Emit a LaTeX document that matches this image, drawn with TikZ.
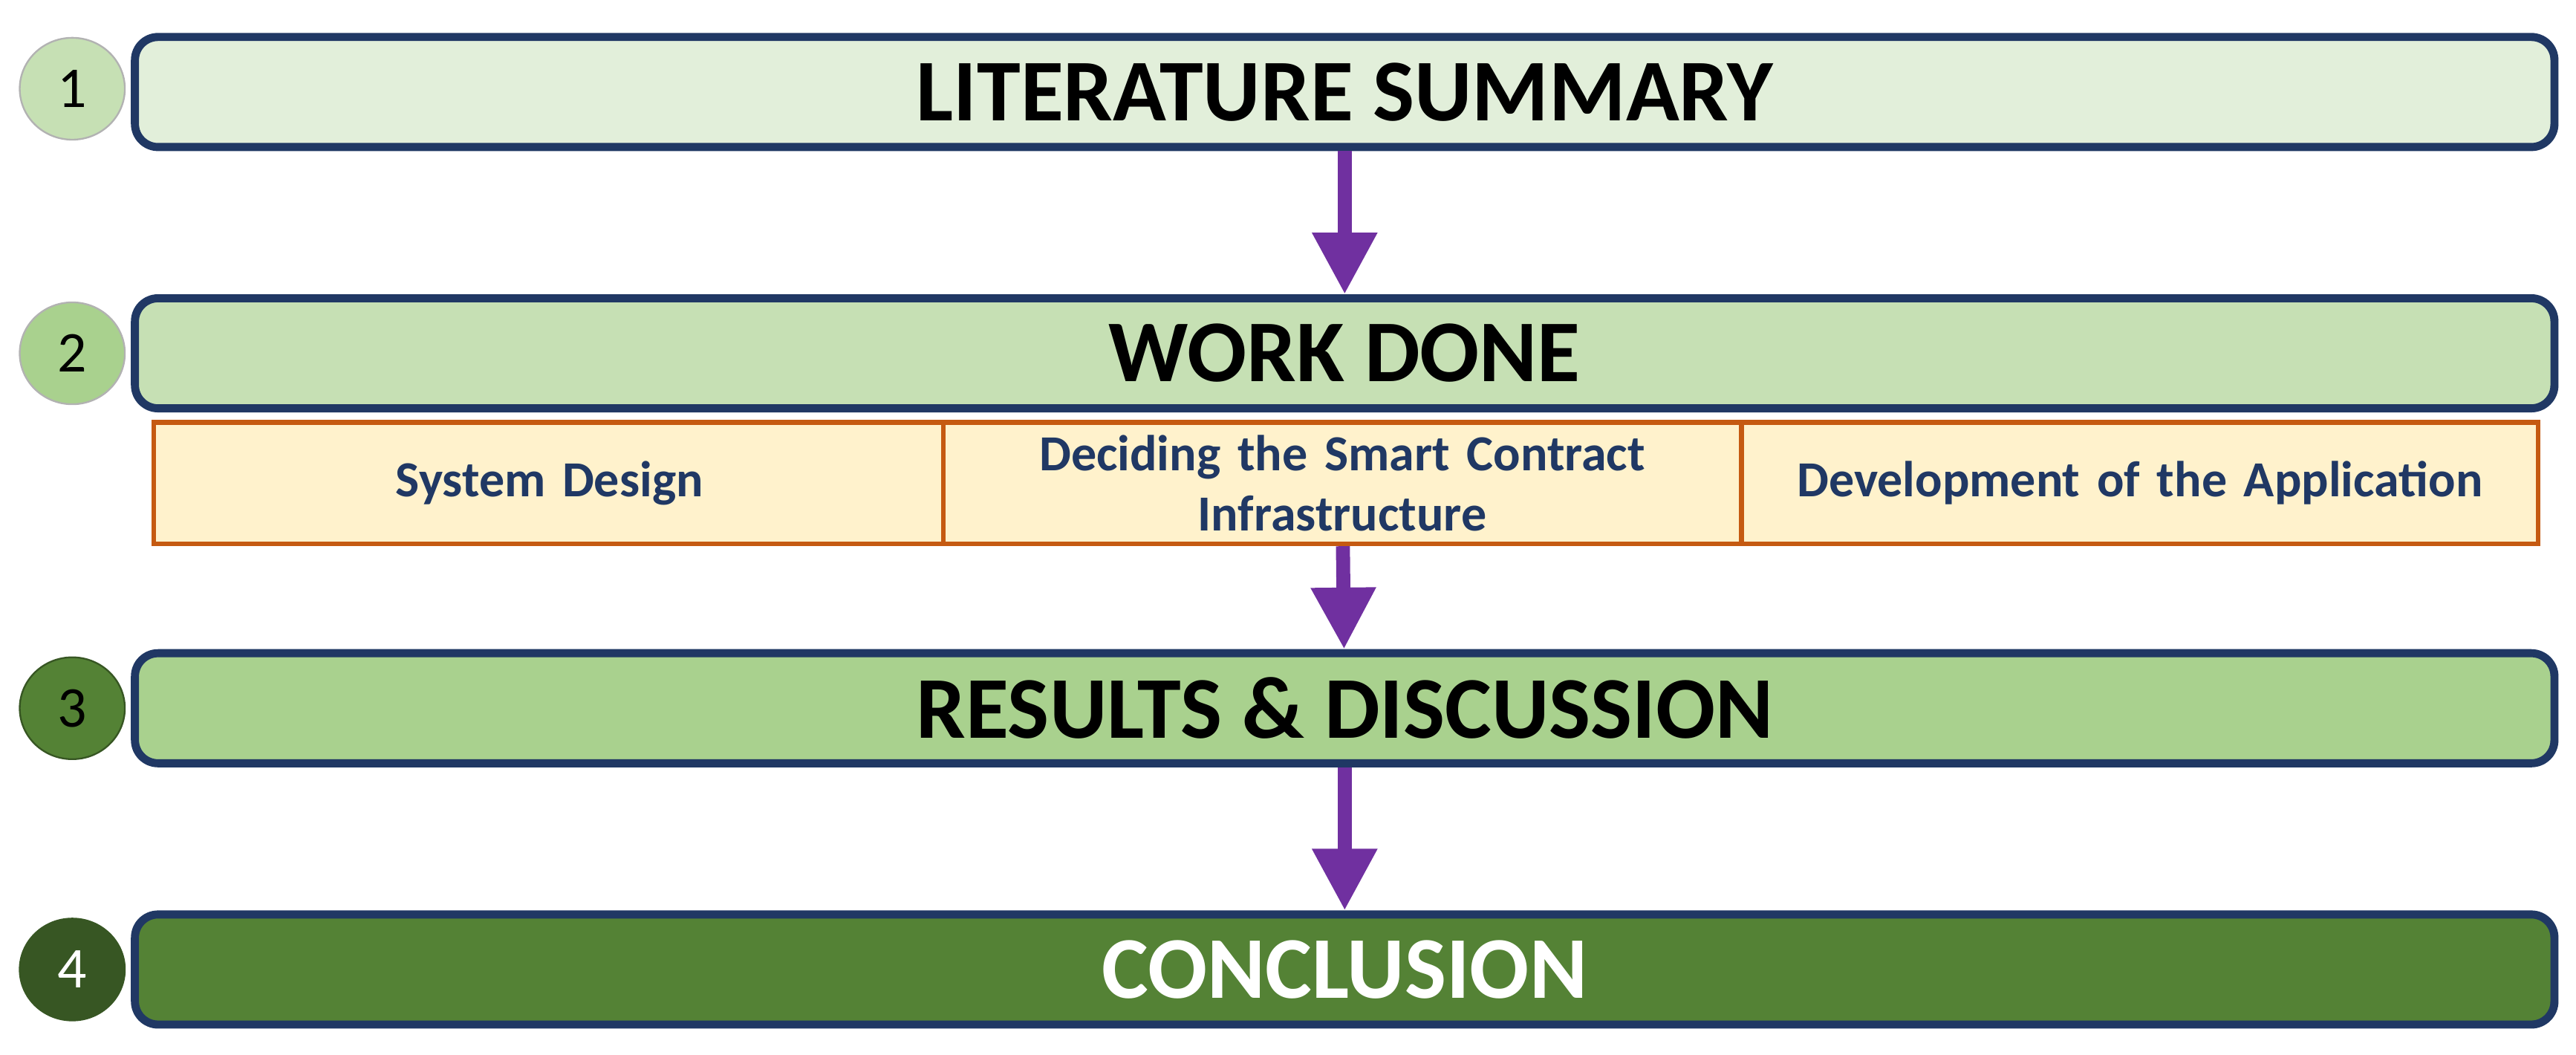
\documentclass[tikz,border=0pt]{standalone}
\usepackage{fontspec}
\setmainfont{Carlito}
\usetikzlibrary{arrows.meta,shapes.geometric}
\definecolor{navy}{HTML}{203864}
\definecolor{gA}{HTML}{E2EFDA}
\definecolor{gB}{HTML}{C6E0B4}
\definecolor{gC}{HTML}{A9D18E}
\definecolor{gD}{HTML}{548235}
\definecolor{gE}{HTML}{375623}
\definecolor{cream}{HTML}{FFF2CC}
\definecolor{rust}{HTML}{C55A11}
\definecolor{violet}{HTML}{7030A0}
\tikzset{
stage/.style={rectangle, rounded corners=8pt, minimum width=29.46cm, minimum height=1.34cm, draw=navy, line width=2.8pt, font=\fontsize{30.5}{34}\selectfont\bfseries, text=black},
task/.style={rectangle, minimum height=1.48cm, text width=9.4cm, align=center, draw=rust, line width=1.6pt, fill=cream, text=navy, font=\fontsize{17.5}{21}\selectfont\bfseries},
stepno/.style={ellipse, minimum width=1.28cm, minimum height=1.24cm, draw=gray!60, line width=0.6pt, font=\fontsize{20}{22}\selectfont},
arrow/.style={line width=0.17cm, violet, -{Triangle[width=0.75cm,length=0.75cm]}}}
\begin{document}
\begin{tikzpicture}[x=0.02cm, y=-0.02cm]
\useasboundingbox (0,0) rectangle (1568,642);
\node (lit) [stage, fill=gA] at (818.5,56) {LITERATURE SUMMARY};
\node (work) [stage, fill=gB] at (818.5,215) {WORK DONE};
\node (res) [stage, fill=gC] at (818.5,431) {RESULTS \& DISCUSSION};
\node (conc) [stage, fill=gD, text=white] at (818.5,590) {CONCLUSION};

\node (design) [task, minimum width=9.58cm] at (334.5,294) {System Design};
\node (infra) [task, minimum width=9.72cm] at (817,294) {Deciding the Smart Contract\\Infrastructure};
\node (app) [task, minimum width=9.7cm] at (1302.5,294) {Development of the Application};

\node (s1) [stepno, fill=gB] at (44,54) {1};
\node (s2) [stepno, fill=gC] at (44,215) {2};
\node (s3) [stepno, fill=gD, draw=gE] at (44,431) {3};
\node (s4) [stepno, fill=gE, draw=gE, text=white] at (44,590) {4};

\draw [arrow] (lit) -- (work);
\draw [arrow] (infra) -- (res);
\draw [arrow] (res) -- (conc);
\end{tikzpicture}
\end{document}
